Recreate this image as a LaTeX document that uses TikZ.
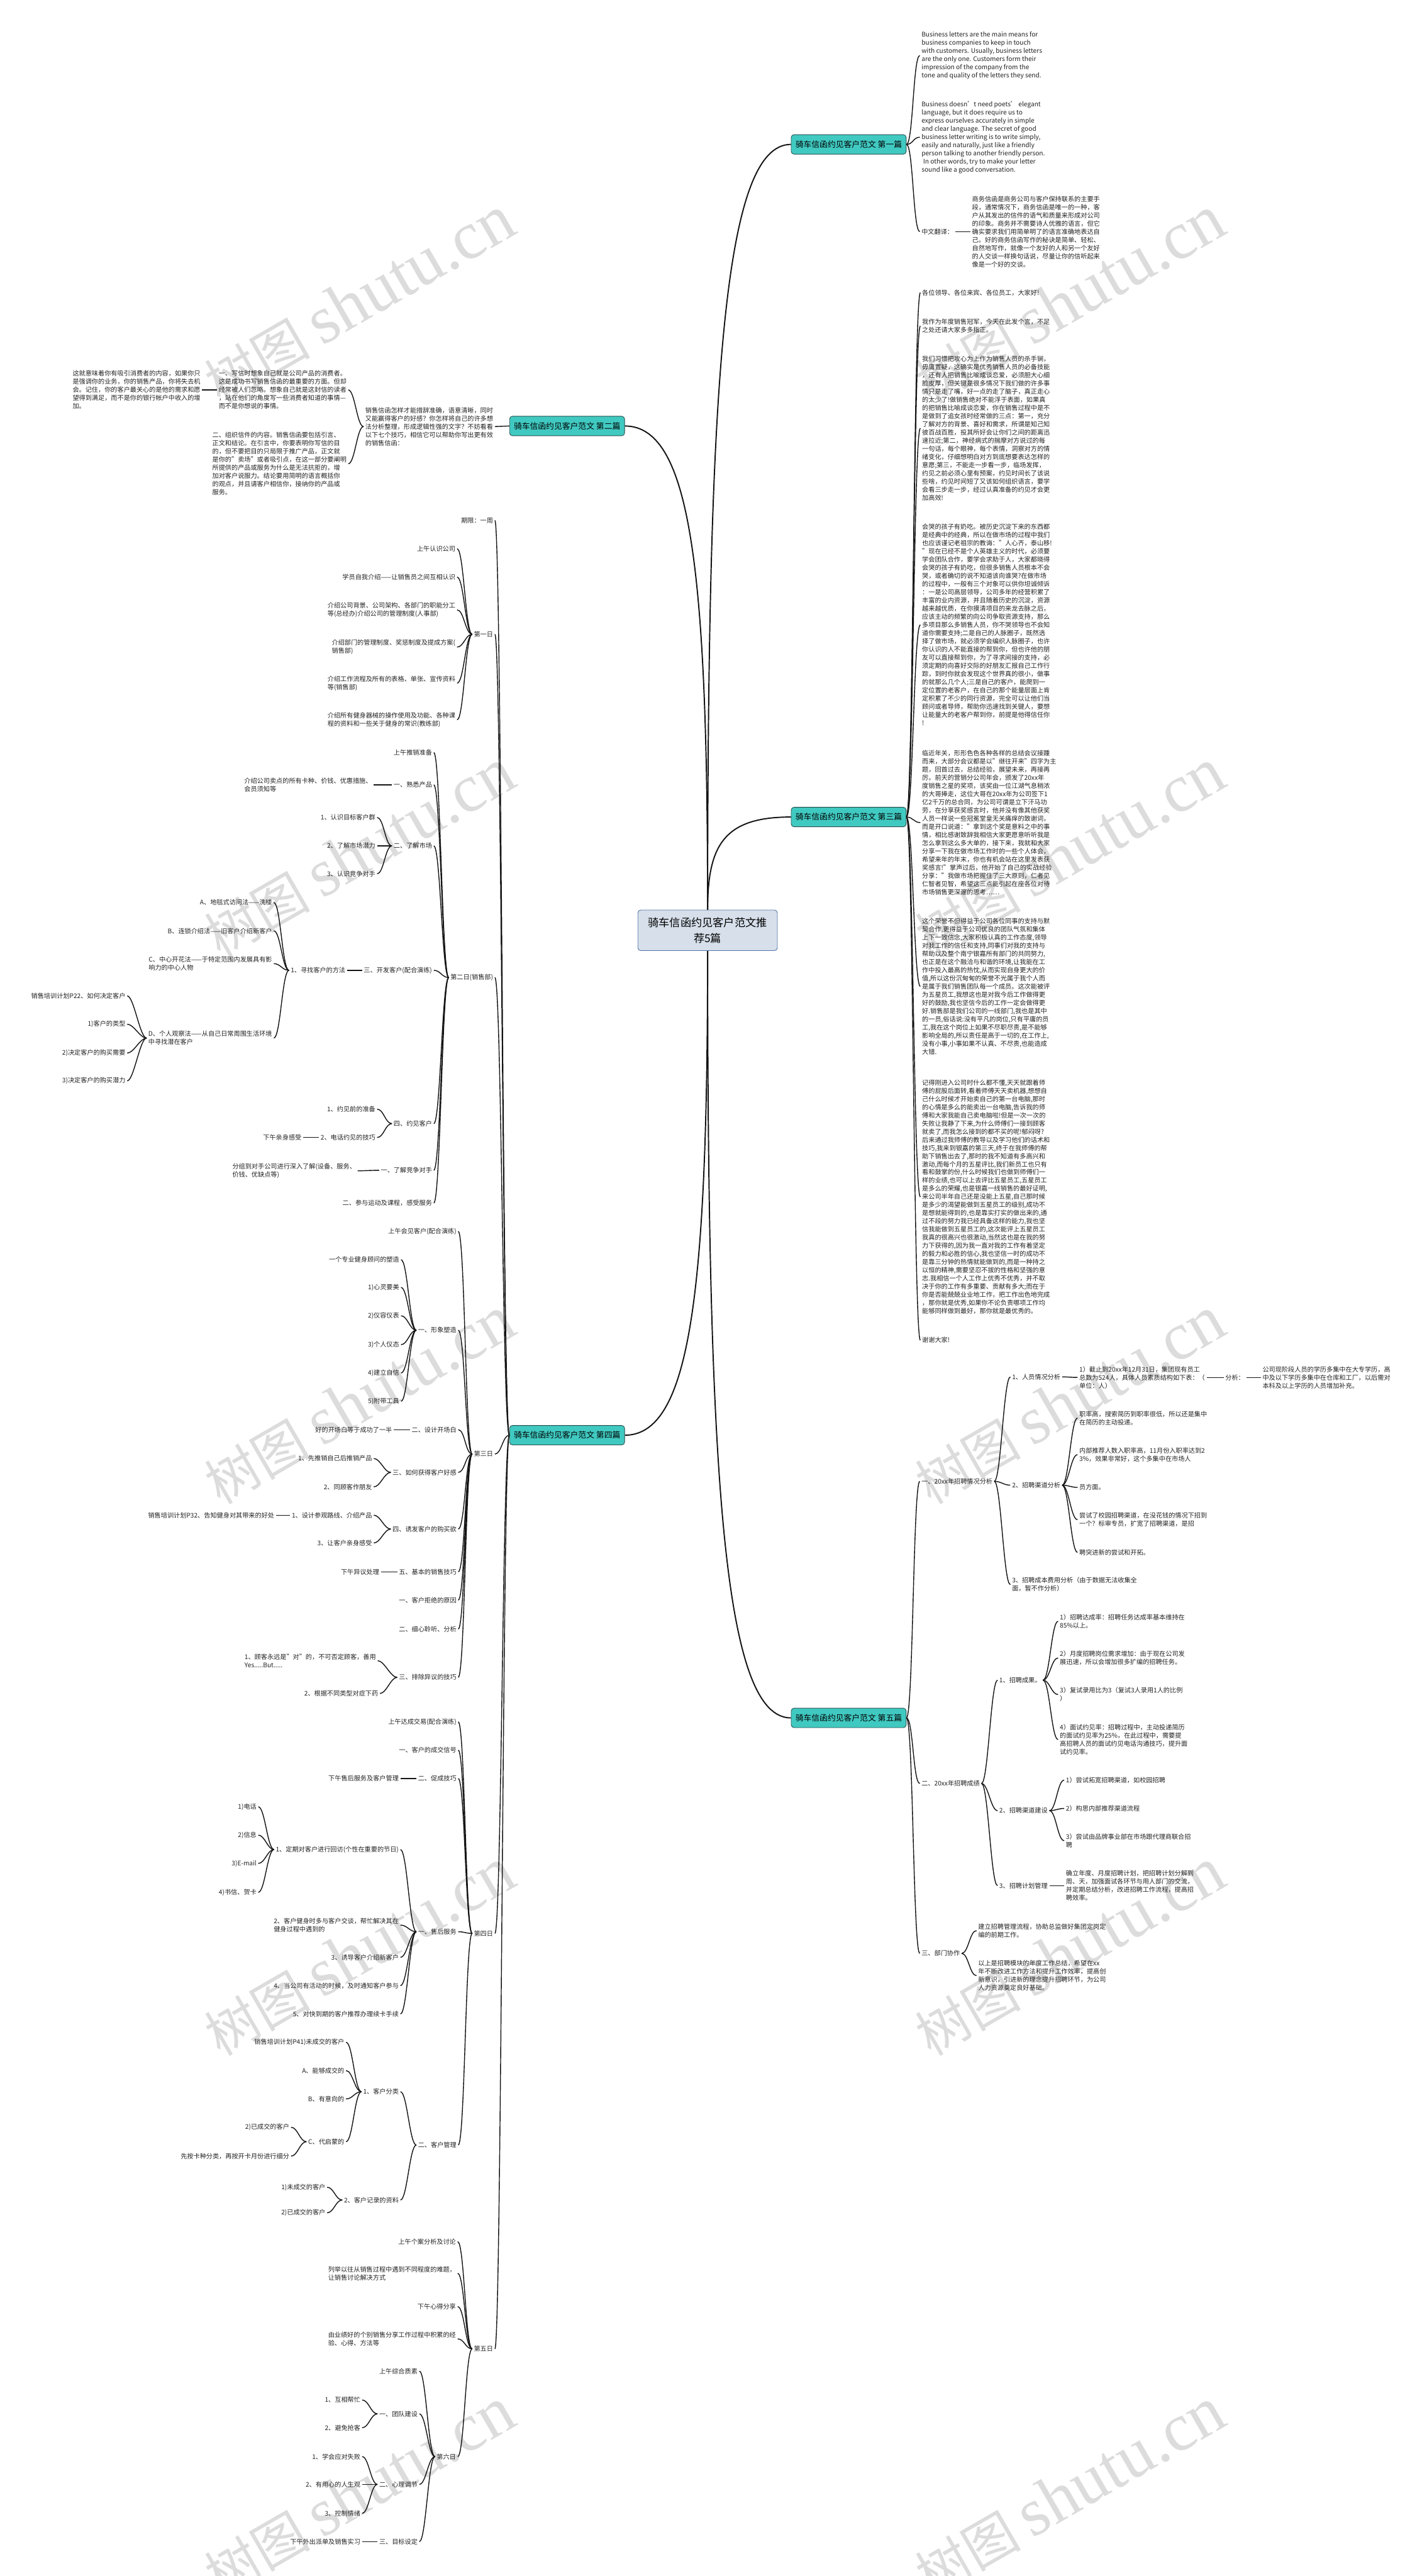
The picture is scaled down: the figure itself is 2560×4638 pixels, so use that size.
\documentclass[tikz,border=0pt]{standalone}
\usepackage{fontspec}
\setmainfont{Noto Sans CJK SC}
\newfontfamily\wmserif{Liberation Serif}
\definecolor{txtc}{RGB}{35,35,35}
\definecolor{linec}{RGB}{20,20,20}
\definecolor{secf}{RGB}{64,201,193}
\definecolor{secb}{RGB}{40,80,80}
\definecolor{cenf}{RGB}{214,223,234}
\definecolor{cenb}{RGB}{80,115,165}
\definecolor{wmc}{RGB}{220,220,220}
\tikzset{
  tx/.style={inner xsep=3pt, inner ysep=1pt, align=left, text=txtc, font=\fontsize{11.5}{14.7}\selectfont},
  txr/.style={tx, anchor=west},
  txl/.style={tx, anchor=east},
  secbox/.style={draw=secb, fill=secf, rounded corners=5pt, line width=1pt, inner sep=2pt, minimum width=207pt, minimum height=35pt, font=\fontsize{14.5}{17}\selectfont, text=black},
  cenbox/.style={draw=cenb, fill=cenf, rounded corners=5pt, line width=1pt, inner sep=2pt, minimum width=251pt, minimum height=73pt, align=center, font=\fontsize{19.5}{28}\selectfont, text=black},
  lk/.style={draw=linec, line width=1.6pt},
  mainlk/.style={draw=linec, line width=2.2pt},
  wm/.style={text=wmc, rotate=30, inner sep=0pt}
}
\newcommand{\lkr}[2]{\draw[lk] (#1.east) .. controls +(12,0) and +(-12,0) .. (#2.west);}
\newcommand{\lkl}[2]{\draw[lk] (#1.west) .. controls +(-12,0) and +(12,0) .. (#2.east);}
\newcommand{\wmark}[1]{\node[wm] at (#1) {\fontsize{95}{100}\selectfont 树图 {\wmserif\fontsize{122}{126}\selectfont shutu.cn}};}
\begin{document}
\begin{tikzpicture}[x=1pt,y=-1pt]
\useasboundingbox (0,0) rectangle (2560,4638);
\fill[white] (0,0) rectangle (2560,4638);
% watermarks
\foreach \yy in {540,1536,2522,3515,4487}{
  \wmark{647,\yy}
  \wmark{1926,\yy}
}
% main connectors
\coordinate (ctop) at (1274,1638);
\coordinate (cbot) at (1274,1711);
\node[secbox, anchor=west] (s1) at (1424,260) {骑车信函约见客户范文 第一篇};
\node[secbox, anchor=west] (s3) at (1424,1471) {骑车信函约见客户范文 第三篇};
\node[secbox, anchor=west] (s5) at (1424,3093) {骑车信函约见客户范文 第五篇};
\node[secbox, anchor=east] (s2) at (1125,767) {骑车信函约见客户范文 第二篇};
\node[secbox, anchor=east] (s4) at (1125,2584) {骑车信函约见客户范文 第四篇};
\draw[mainlk] (ctop) .. controls (1274,673) and (1304,260) .. (s1.west);
\draw[mainlk] (ctop) .. controls (1274,1521) and (1304,1471) .. (s3.west);
\draw[mainlk] (ctop) .. controls (1274,1028) and (1244,767) .. (s2.east);
\draw[mainlk] (cbot) .. controls (1274,2322) and (1244,2584) .. (s4.east);
\draw[mainlk] (cbot) .. controls (1274,2678) and (1304,3093) .. (s5.west);
\node[cenbox] (c) at (1274,1675) {骑车信函约见客户范文推\\荐5篇};

% ===== Section 1 =====
\node[txr] (a1) at (1656,100) {Business letters are the main means for\\business companies to keep in touch\\with customers. Usually, business letters\\are the only one. Customers form their\\impression of the company from the\\tone and quality of the letters they send.};
\node[txr] (a2) at (1656,247) {Business doesn't need poets' elegant\\language, but it does require us to\\express ourselves accurately in simple\\and clear language. The secret of good\\business letter writing is to write simply,\\easily and naturally, just like a friendly\\person talking to another friendly person.\\\hspace*{3pt}In other words, try to make your letter\\sound like a good conversation.};
\node[txr] (a3) at (1656,417) {中文翻译：};
\node[txr] (a3c) at (1747,417) {商务信函是商务公司与客户保持联系的主要手\\段，通常情况下，商务信函是唯一的一种，客\\户从其发出的信件的语气和质量来形成对公司\\的印象。商务并不需要诗人优雅的语言，但它\\确实要求我们用简单明了的语言准确地表达自\\己。好的商务信函写作的秘诀是简单、轻松、\\自然地写作，就像一个友好的人和另一个友好\\的人交谈一样换句话说，尽量让你的信听起来\\像是一个好的交谈。};
\lkr{s1}{a1}\lkr{s1}{a2}\lkr{s1}{a3}\lkr{a3}{a3c}

% ===== Section 3 =====
\node[txr] (b1) at (1657,527) {各位领导、各位来宾、各位员工，大家好!};
\node[txr] (b2) at (1657,587) {我作为年度销售冠军，今天在此发个言，不足\\之处还请大家多多指正。};
\node[txr] (b3) at (1657,771) {我们习惯把攻心为上作为销售人员的杀手锏，\\毋庸置疑，这确实是优秀销售人员的必备技能\\，还有人把销售比喻成谈恋爱，必须胆大心细\\脸皮厚，但关键是很多情况下我们做的许多事\\情只是走了嘴，好一点的走了脑子，真正走心\\的太少了!做销售绝对不能浮于表面，如果真\\的把销售比喻成谈恋爱，你在销售过程中是不\\是做到了追女孩时经常做的三点：第一，充分\\了解对方的背景、喜好和需求，所谓是知己知\\彼百战百胜，投其所好会让你们之间的距离迅\\速拉近;第二，神经病式的揣摩对方说过的每\\一句话，每个眼神，每个表情，洞察对方的情\\绪变化，仔细想明白对方到底想要表达怎样的\\意愿;第三，不能走一步看一步，临场发挥，\\约见之前必须心里有预案，约见时间长了该说\\些啥，约见时间短了又该如何组织语言，要学\\会看三步走一步，经过认真准备的约见才会更\\加高效!};
\node[txr] (b4) at (1657,1125) {会哭的孩子有奶吃。被历史沉淀下来的东西都\\是经典中的经典，所以在做市场的过程中我们\\也应该谨记老祖宗的教诲："人心齐，泰山移!\\"现在已经不是个人英雄主义的时代，必须要\\学会团队合作，要学会求助于人，大家都晓得\\会哭的孩子有奶吃，但很多销售人员根本不会\\哭，或者确切的说不知道该向谁哭?在做市场\\的过程中，一般有三个对象可以供你坦诚倾诉\\：一是公司高层领导，公司多年的经营积累了\\丰富的业内资源，并且随着历史的沉淀，资源\\越来越优质，在你摸清项目的来龙去脉之后，\\应该主动的频繁的向公司争取资源支持，那么\\多项目那么多销售人员，你不哭领导也不会知\\道你需要支持;二是自己的人脉圈子，既然选\\择了做市场，就必须学会编织人脉圈子，也许\\你认识的人不能直接的帮到你，但也许他的朋\\友可以直接帮到你，为了寻求间接的支持，必\\须定期的向喜好交际的好朋友汇报自己工作行\\踪，到时你就会发现这个世界真的很小，做事\\的就那么几个人;三是自己的客户，能爬到一\\定位置的老客户，在自己的那个能量层面上肯\\定积累了不少的同行资源，完全可以让他们当\\顾问或者导师，帮助你迅速找到关键人，要想\\让能量大的老客户帮到你，前提是他得信任你\\!};
\node[txr] (b5) at (1657,1481) {临近年关，形形色色各种各样的总结会议接踵\\而来，大部分会议都是以"继往开来"四字为主\\题，回首过去，总结经验，展望未来，再接再\\厉。前天的营销分公司年会，颁发了20xx年\\度销售之星的奖项，该奖由一位江湖气息稍浓\\的大哥捧走，这位大哥在20xx年为公司签下1\\亿2千万的总合同，为公司可谓是立下汗马功\\劳，在分享获奖感言时，他并没有像其他获奖\\人员一样说一些冠冕堂皇无关痛痒的致谢词，\\而是开口说道："拿到这个奖是意料之中的事\\情，相比感谢致辞我相信大家更愿意听听我是\\怎么拿到这么多大单的，接下来，我就和大家\\分享一下我在做市场工作时的一些个人体会，\\希望来年的年末，你也有机会站在这里发表获\\奖感言!"掌声过后，他开始了自己的实战经验\\分享："我做市场把握住了三大原则，仁者见\\仁智者见智，希望这三点能引起在座各位对待\\市场销售更深邃的思考……};
\node[txr] (b6) at (1657,1776) {这个荣誉不但得益于公司各位同事的支持与默\\契合作,更得益于公司优良的团队气氛和集体\\上下一致信念,大家积极认真的工作态度,领导\\对我工作的信任和支持,同事们对我的支持与\\帮助以及整个南宁银嘉所有部门的共同努力,\\也正是在这个融洽与和谐的环境,让我能在工\\作中投入最高的热忱,从而实现自身更大的价\\值,所以这份沉甸甸的荣誉不光属于我个人而\\是属于我们销售团队每一个成员。这次能被评\\为五星员工,我想这也是对我今后工作做得更\\好的鼓励,我也坚信今后的工作一定会做得更\\好.销售部是我们公司的一线部门,我也是其中\\的一员,俗话说:没有平凡的岗位,只有平庸的员\\工,我在这个岗位上如果不尽职尽责,是不能够\\影响全局的,所以责任是高于一切的,在工作上,\\没有小事,小事如果不认真、不尽责,也能造成\\大错.};
\node[txr] (b7) at (1657,2155) {记得刚进入公司时什么都不懂,天天就跟着师\\傅的屁股后面转,看着师傅天天卖机器,想想自\\己什么时候才开始卖自己的第一台电脑,那时\\的心情是多么的能卖出一台电脑,告诉我的师\\傅和大家我能自己卖电脑啦!但是一次一次的\\失败让我静了下来,为什么师傅们一接到顾客\\就卖了,而我怎么接到的都不买的呢!郁闷呀?\\后来通过我师傅的教导以及学习他们的话术和\\技巧,我来到银嘉的第三天,终于在我师傅的帮\\助下销售出去了,那时的我不知道有多高兴和\\激动,而每个月的五星评比,我们新员工也只有\\看和鼓掌的份,什么时候我们也做到师傅们一\\样的业绩,也可以上去评比五星员工,五星员工\\是多么的荣耀,也是银嘉一线销售的最好证明,\\来公司半年自己还是没能上五星,自己那时候\\是多少的渴望能做到五星员工的级别,成功不\\是想就能得到的,也是靠实打实的做出来的,通\\过不段的努力我已经具备这样的能力,我也坚\\信我能做到五星员工的,这次能评上五星员工\\我真的很高兴也很激动,当然这也是在我的努\\力下获得的,因为我一直对我的工作有着坚定\\的毅力和必胜的信心,我也坚信一时的成功不\\是靠三分钟的热情就能做到的,而是一种持之\\以恒的精神,需要坚忍不拔的性格和坚强的意\\志.我相信一个人工作上优秀不优秀，并不取\\决于你的工作有多重要、贡献有多大;而在于\\你是否能兢兢业业地工作，把工作出色地完成\\，那你就是优秀,如果你不论负责哪项工作均\\能够同样做到最好，那你就是最优秀的。};
\node[txr] (b8) at (1657,2413) {谢谢大家!};
\foreach \n in {b1,b2,b3,b4,b5,b6,b7,b8}{\lkr{s3}{\n}}

% ===== Section 5 =====
\node[txr] (c1) at (1656,2667) {一、20xx年招聘情况分析};
\node[txr] (c11) at (1819,2479) {1、人员情况分析};
\node[txr] (c111) at (1940,2480) {1）截止到20xx年12月31日，集团现有员工\\总数为524人，具体人员素质结构如下表：（\\单位：人）};
\node[txr] (c1111) at (2203,2480) {分析：};
\node[txr] (c11111) at (2270,2480) {公司现阶段人员的学历多集中在大专学历，高\\中及以下学历多集中在仓库和工厂，以后需对\\本科及以上学历的人员增加补充。};
\node[txr] (c12) at (1819,2674) {2、招聘渠道分析};
\node[txr] (c121) at (1940,2553) {职率高，搜索简历到职率很低，所以还是集中\\在简历的主动投递。};
\node[txr] (c122) at (1940,2619) {内部推荐人数入职率高，11月份入职率达到2\\3\%，效果非常好，这个多集中在市场人};
\node[txr] (c123) at (1940,2678) {员方面。};
\node[txr] (c124) at (1940,2736) {尝试了校园招聘渠道，在没花钱的情况下招到\\一个？标审专员，扩宽了招聘渠道，是招};
\node[txr] (c125) at (1940,2795) {聘突进新的尝试和开拓。};
\node[txr] (c13) at (1819,2853) {3、招聘成本费用分析（由于数据无法收集全\\面，暂不作分析）};
\node[txr] (c2) at (1656,3211) {二、20xx年招聘成绩};
\node[txr] (c21) at (1796,3025) {1、招聘成果。};
\node[txr] (c211) at (1905,2919) {1）招聘达成率：招聘任务达成率基本维持在\\85\%以上。};
\node[txr] (c212) at (1905,2985) {2）月度招聘岗位需求增加：由于现在公司发\\展迅速，所以会增加很多扩编的招聘任务。};
\node[txr] (c213) at (1905,3051) {3）复试录用比为3（复试3人录用1人的比例\\）};
\node[txr] (c214) at (1905,3132) {4）面试约见率：招聘过程中，主动投递简历\\的面试约见率为25\%，在此过程中，需要提\\高招聘人员的面试约见电话沟通技巧，提升面\\试约见率。};
\node[txr] (c22) at (1796,3260) {2、招聘渠道建设};
\node[txr] (c221) at (1916,3205) {1）尝试拓宽招聘渠道，如校园招聘};
\node[txr] (c222) at (1916,3256) {2）构思内部推荐渠道流程};
\node[txr] (c223) at (1916,3314) {3）尝试由品牌事业部在市场跟代理商联合招\\聘};
\node[txr] (c23) at (1796,3395) {3、招聘计划管理};
\node[txr] (c231) at (1916,3395) {确立年度、月度招聘计划，把招聘计划分解到\\周、天，加强面试各环节与用人部门的交流，\\并定期总结分析，改进招聘工作流程，提高招\\聘效率。};
\node[txr] (c3) at (1656,3517) {三、部门协作};
\node[txr] (c31) at (1758,3476) {建立招聘管理流程，协助总监做好集团定岗定\\编的前期工作。};
\node[txr] (c32) at (1758,3557) {以上是招聘模块的年度工作总结，希望在xx\\年不断改进工作方法和提升工作效率，提高创\\新意识，引进新的理念提升招聘环节，为公司\\人力资源奠定良好基础。};
\lkr{s5}{c1}\lkr{s5}{c2}\lkr{s5}{c3}
\lkr{c1}{c11}\lkr{c1}{c12}\lkr{c1}{c13}
\lkr{c11}{c111}\lkr{c111}{c1111}\lkr{c1111}{c11111}
\foreach \n in {c121,c122,c123,c124,c125}{\lkr{c12}{\n}}
\lkr{c2}{c21}\lkr{c2}{c22}\lkr{c2}{c23}
\foreach \n in {c211,c212,c213,c214}{\lkr{c21}{\n}}
\foreach \n in {c221,c222,c223}{\lkr{c22}{\n}}
\lkr{c23}{c231}
\lkr{c3}{c31}\lkr{c3}{c32}

% ===== Section 2 =====
\node[txl] (d0) at (891,768) {销售信函怎样才能措辞准确，语意清晰，同时\\又能赢得客户的好感？你怎样将自己的许多想\\法分析整理，形成逻辑性强的文字？不妨看看\\以下七个技巧，相信它可以帮助你写出更有效\\的销售信函：};
\node[txl] (d1) at (627,702) {一、写信时想象自己就是公司产品的消费者。\\这是成功书写销售信函的最重要的方面。但却\\经常被人们忽略。想象自己就是这封信的读者\\，站在他们的角度写一些消费者知道的事情—\\而不是你想说的事情。};
\node[txl] (d11) at (364,702) {这就意味着你有吸引消费者的内容，如果你只\\是强调你的业务，你的销售产品，你将失去机\\会。记住，你的客户最关心的是他的需求和愿\\望得到满足，而不是你的银行帐户中收入的增\\加。};
\node[txl] (d2) at (627,835) {二、组织信件的内容。销售信函要包括引言、\\正文和结论。在引言中，你要表明你写信的目\\的，但不要把目的只局限于推广产品，正文就\\是你的"卖场"或者吸引点，在这一部分要阐明\\所提供的产品或服务为什么是无法抗拒的，增\\加对客户说服力。结论要用简明的语言概括你\\的观点，并且请客户相信你，接纳你的产品或\\服务。};
\lkl{s2}{d0}\lkl{d0}{d1}\lkl{d0}{d2}\lkl{d1}{d11}

% ===== Section 4 =====
\node[txl] (e0) at (891,937) {期限：一周};
\node[txl] (e1) at (891,1142) {第一日};
\node[txl] (e2) at (891,1760) {第二日(销售部)};
\node[txl] (e3) at (891,2618) {第三日};
\node[txl] (e4) at (891,3481) {第四日};
\node[txl] (e5) at (891,4229) {第五日};
\foreach \n in {e0,e1,e2,e3,e4,e5}{\lkl{s4}{\n}}
% day 1
\node[txl] (e11) at (823,988) {上午认识公司};
\node[txl] (e12) at (823,1039) {学员自我介绍——让销售员之间互相认识};
\node[txl] (e13) at (823,1098) {介绍公司背景、公司架构、各部门的职能分工\\等(总经办)介绍公司的管理制度(人事部)};
\node[txl] (e14) at (823,1165) {介绍部门的管理制度、奖惩制度及提成方案(\\销售部)};
\node[txl] (e15) at (823,1230) {介绍工作流程及所有的表格、单张、宣传资料\\等(销售部)};
\node[txl] (e16) at (823,1296) {介绍所有健身器械的操作使用及功能、各种课\\程的资料和一些关于健身的常识(教练部)};
\foreach \n in {e11,e12,e13,e14,e15,e16}{\lkl{e1}{\n}}
% day 2
\node[txl] (e21) at (781,1355) {上午推销准备};
\node[txl] (e22) at (781,1413) {一、熟悉产品};
\node[txl] (e221) at (673,1413) {介绍公司卖点的所有卡种、价钱、优惠措施、\\会员须知等};
\node[txl] (e23) at (781,1523) {二、了解市场};
\node[txl] (e231) at (679,1472) {1、认识目标客户群};
\node[txl] (e232) at (679,1523) {2、了解市场潜力};
\node[txl] (e233) at (679,1573) {3、认识竞争对手};
\node[txl] (e24) at (781,1747) {三、开发客户(配合演练)};
\node[txl] (e241) at (625,1747) {1、寻找客户的方法};
\node[txl] (e2411) at (493,1625) {A、地毯式访问法——洗楼};
\node[txl] (e2412) at (493,1676) {B、连锁介绍法——旧客户介绍新客户};
\node[txl] (e2413) at (493,1735) {C、中心开花法——于特定范围内发展具有影\\响力的中心人物};
\node[txl] (e2414) at (493,1869) {D、个人观察法——从自己日常周围生活环境\\中寻找潜在客户};
\node[txl] (e24141) at (229,1793) {销售培训计划P22、如何决定客户};
\node[txl] (e24142) at (229,1844) {1)客户的类型};
\node[txl] (e24143) at (229,1896) {2)决定客户的购买需要};
\node[txl] (e24144) at (229,1946) {3)决定客户的购买潜力};
\node[txl] (e25) at (781,2023) {四、约见客户};
\node[txl] (e251) at (679,1997) {1、约见前的准备};
\node[txl] (e252) at (679,2048) {2、电话约见的技巧};
\node[txl] (e2521) at (546,2048) {下午亲身感受};
\node[txl] (e26) at (781,2107) {一、了解竞争对手};
\node[txl] (e261) at (644,2108) {分组到对手公司进行深入了解(设备、服务、\\价钱、优缺点等)};
\node[txl] (e27) at (781,2166) {二、参与运动及课程，感受服务};
\foreach \n in {e21,e22,e23,e24,e25,e26,e27}{\lkl{e2}{\n}}
\lkl{e22}{e221}
\lkl{e23}{e231}\lkl{e23}{e232}\lkl{e23}{e233}
\lkl{e24}{e241}
\foreach \n in {e2411,e2412,e2413,e2414}{\lkl{e241}{\n}}
\foreach \n in {e24141,e24142,e24143,e24144}{\lkl{e2414}{\n}}
\lkl{e25}{e251}\lkl{e25}{e252}\lkl{e252}{e2521}
\lkl{e26}{e261}
% day 3
\node[txl] (e31) at (825,2217) {上午会见客户(配合演练)};
\node[txl] (e32) at (825,2395) {一、形象塑造};
\node[txl] (e321) at (722,2268) {一个专业健身顾问的塑造};
\node[txl] (e322) at (722,2318) {1)心灵要美};
\node[txl] (e323) at (722,2369) {2)仪容仪表};
\node[txl] (e324) at (722,2421) {3)个人仪态};
\node[txl] (e325) at (722,2472) {4)建立自信};
\node[txl] (e326) at (722,2523) {5)附带工具};
\node[txl] (e33) at (825,2574) {二、设计开场白};
\node[txl] (e331) at (709,2574) {好的开场白等于成功了一半};
\node[txl] (e34) at (825,2651) {三、如何获得客户好感};
\node[txl] (e341) at (673,2626) {1、先推销自己后推销产品};
\node[txl] (e342) at (673,2677) {2、同顾客作朋友};
\node[txl] (e35) at (825,2753) {四、诱发客户的购买欲};
\node[txl] (e351) at (673,2728) {1、设计参观路线、介绍产品};
\node[txl] (e3511) at (497,2728) {销售培训计划P32、告知健身对其带来的好处};
\node[txl] (e352) at (673,2778) {3、让客户亲身感受};
\node[txl] (e36) at (825,2830) {五、基本的销售技巧};
\node[txl] (e361) at (686,2830) {下午异议处理};
\node[txl] (e37) at (825,2881) {一、客户拒绝的原因};
\node[txl] (e38) at (825,2933) {二、细心聆听、分析};
\node[txl] (e39) at (825,3020) {三、排除异议的技巧};
\node[txl] (e391) at (680,2990) {1、顾客永远是"对"的，不可否定顾客，善用\\Yes.....But.....};
\node[txl] (e392) at (684,3049) {2、根据不同类型对症下药};
\foreach \n in {e31,e32,e33,e34,e35,e36,e37,e38,e39}{\lkl{e3}{\n}}
\foreach \n in {e321,e322,e323,e324,e325,e326}{\lkl{e32}{\n}}
\lkl{e33}{e331}
\lkl{e34}{e341}\lkl{e34}{e342}
\lkl{e35}{e351}\lkl{e35}{e352}\lkl{e351}{e3511}
\lkl{e36}{e361}
\lkl{e39}{e391}\lkl{e39}{e392}
% day 4
\node[txl] (e41) at (825,3100) {上午达成交易(配合演练)};
\node[txl] (e42) at (825,3151) {一、客户的成交信号};
\node[txl] (e43) at (825,3202) {二、促成技巧};
\node[txl] (e431) at (721,3202) {下午售后服务及客户管理};
\node[txl] (e44) at (825,3478) {一、售后服务};
\node[txl] (e441) at (721,3330) {1、定期对客户进行回访(个性在重要的节日)};
\node[txl] (e4411) at (465,3253) {1)电话};
\node[txl] (e4412) at (465,3304) {2)信息};
\node[txl] (e4413) at (465,3355) {3)E-mail};
\node[txl] (e4414) at (465,3407) {4)书信、贺卡};
\node[txl] (e442) at (721,3466) {2、客户健身时多与客户交谈，帮忙解决其在\\健身过程中遇到的};
\node[txl] (e443) at (721,3524) {3、诱导客户介绍新客户};
\node[txl] (e444) at (721,3575) {4、当公司有活动的时候，及时通知客户参与};
\node[txl] (e445) at (721,3626) {5、对快到期的客户推荐办理续卡手续};
\node[txl] (e45) at (825,3862) {二、客户管理};
\node[txl] (e451) at (721,3766) {1、客户分类};
\node[txl] (e4511) at (623,3677) {销售培训计划P41)未成交的客户};
\node[txl] (e4512) at (623,3728) {A、能够成交的};
\node[txl] (e4513) at (623,3779) {B、有意向的};
\node[txl] (e4514) at (623,3856) {C、代启蒙的};
\node[txl] (e45141) at (524,3830) {2)已成交的客户};
\node[txl] (e45142) at (524,3882) {先按卡种分类，再按开卡月份进行细分};
\node[txl] (e452) at (721,3961) {2、客户记录的资料};
\node[txl] (e4521) at (589,3938) {1)未成交的客户};
\node[txl] (e4522) at (589,3984) {2)已成交的客户};
\foreach \n in {e41,e42,e43,e44,e45}{\lkl{e4}{\n}}
\lkl{e43}{e431}
\foreach \n in {e441,e442,e443,e444,e445}{\lkl{e44}{\n}}
\foreach \n in {e4411,e4412,e4413,e4414}{\lkl{e441}{\n}}
\lkl{e45}{e451}\lkl{e45}{e452}
\foreach \n in {e4511,e4512,e4513,e4514}{\lkl{e451}{\n}}
\lkl{e4514}{e45141}\lkl{e4514}{e45142}
\lkl{e452}{e4521}\lkl{e452}{e4522}
% day 5
\node[txl] (e51) at (824,4036) {上午个案分析及讨论};
\node[txl] (e52) at (824,4093) {列举以往从销售过程中遇到不同程度的难题，\\让销售讨论解决方式};
\node[txl] (e53) at (824,4153) {下午心得分享};
\node[txl] (e54) at (824,4211) {由业绩好的个别销售分享工作过程中积累的经\\验、心得、方法等};
\node[txl] (e55) at (824,4423) {第六日};
\foreach \n in {e51,e52,e53,e54,e55}{\lkl{e5}{\n}}
\node[txl] (e551) at (755,4269) {上午综合质素};
\node[txl] (e552) at (755,4346) {一、团队建设};
\node[txl] (e5521) at (652,4321) {1、互相帮忙};
\node[txl] (e5522) at (652,4371) {2、避免抢客};
\node[txl] (e553) at (755,4473) {二、心理调节};
\node[txl] (e5531) at (652,4423) {1、学会应对失败};
\node[txl] (e5532) at (652,4473) {2、有用心的人生观};
\node[txl] (e5533) at (652,4525) {3、控制情绪};
\node[txl] (e554) at (755,4576) {三、目标设定};
\node[txl] (e5541) at (652,4576) {下午外出派单及销售实习};
\foreach \n in {e551,e552,e553,e554}{\lkl{e55}{\n}}
\lkl{e552}{e5521}\lkl{e552}{e5522}
\lkl{e553}{e5531}\lkl{e553}{e5532}\lkl{e553}{e5533}
\lkl{e554}{e5541}
\end{tikzpicture}
\end{document}
